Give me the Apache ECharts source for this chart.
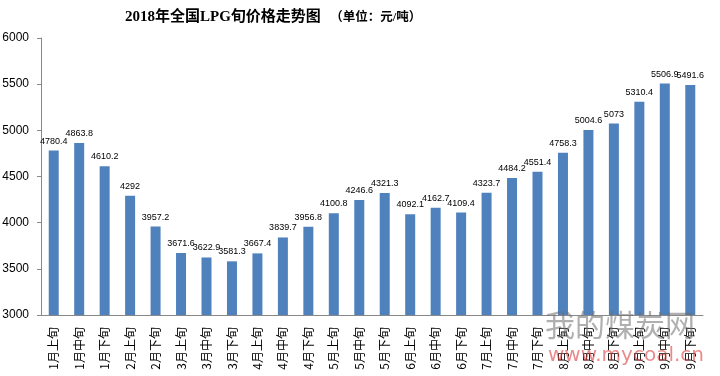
<!DOCTYPE html>
<html>
<head>
<meta charset="utf-8">
<script src="https://cdn.jsdelivr.net/npm/echarts@6/dist/echarts.min.js"></script>
<style>
  html, body { margin: 0; padding: 0; background: #fff; }
  #chart { width: 720px; height: 376px; }
</style>
</head>
<body>
<div id="chart"></div>
<script>
// 旬度分类（2月中旬缺）
var categories = ['1月上旬', '1月中旬', '1月下旬', '2月上旬', '2月下旬', '3月上旬', '3月中旬', '3月下旬',
  '4月上旬', '4月中旬', '4月下旬', '5月上旬', '5月中旬', '5月下旬', '6月上旬', '6月中旬', '6月下旬',
  '7月上旬', '7月中旬', '7月下旬', '8月上旬', '8月中旬', '8月下旬', '9月上旬', '9月中旬', '9月下旬'];
var prices = [4780.4, 4863.8, 4610.2, 4292, 3957.2, 3671.6, 3622.9, 3581.3,
  3667.4, 3839.7, 3956.8, 4100.8, 4246.6, 4321.3, 4092.1, 4162.7, 4109.4,
  4323.7, 4484.2, 4551.4, 4758.3, 5004.6, 5073, 5310.4, 5506.9, 5491.6];
var yTicks = [3000, 3500, 4000, 4500, 5000, 5500, 6000];

var myChart = echarts.init(document.getElementById('chart'));
var option = {
  animation: false,
  title: {
    text: '{a|2018年全国LPG旬价格走势图}{b|   （单位：元/吨）}',
    left: 120,
    top: 5,
    textStyle: {
      rich: {
        a: { fontFamily: 'Liberation Serif, Noto Sans CJK SC', fontWeight: 'bold', fontSize: 15, color: '#000' },
        b: { fontFamily: 'Liberation Serif, Noto Sans CJK SC', fontSize: 12.5, color: '#000' }
      }
    }
  },
  grid: {
    left: 41,
    right: 17,
    top: 38,
    bottom: 61,
    containLabel: false,
    outerBoundsMode: 'none'
  },
  xAxis: {
    type: 'category',
    data: categories,
    axisLine: { lineStyle: { color: '#888' } },
    axisTick: { length: 62, lineStyle: { color: '#888' } },
    axisLabel: {
      rotate: 90,
      interval: 0,
      margin: 12,
      color: '#000',
      fontSize: 12,
      fontFamily: 'Noto Sans CJK SC'
    }
  },
  yAxis: {
    type: 'value',
    min: yTicks[0],
    max: yTicks[yTicks.length - 1],
    interval: 500,
    splitLine: { show: false },
    axisLine: { show: true, lineStyle: { color: '#888' } },
    axisTick: { show: true, length: 4, lineStyle: { color: '#888' } },
    axisLabel: {
      color: '#000',
      fontSize: 12,
      margin: 12,
      fontFamily: 'Liberation Sans',
      formatter: function (v) { return String(v); }
    }
  },
  series: [{
    type: 'bar',
    data: prices,
    barWidth: 10,
    itemStyle: { color: '#4f81bd' },
    label: {
      show: true,
      position: 'top',
      distance: 5,
      color: '#000',
      fontSize: 9,
      fontFamily: 'Liberation Sans'
    }
  }],
  graphic: [
    {
      type: 'text',
      left: 545,
      top: 310,
      z: 100,
      style: {
        text: '我的煤炭网',
        fill: 'rgba(110,110,110,0.55)',
        fontSize: 30,
        fontFamily: 'Noto Sans CJK SC'
      }
    },
    {
      type: 'text',
      left: 548,
      top: 346,
      z: 100,
      style: {
        text: 'www.mycoal.cn',
        fill: 'rgba(220,60,60,0.6)',
        fontSize: 20,
        fontFamily: 'DejaVu Sans'
      }
    }
  ]
};
myChart.setOption(option);
</script>
</body>
</html>
